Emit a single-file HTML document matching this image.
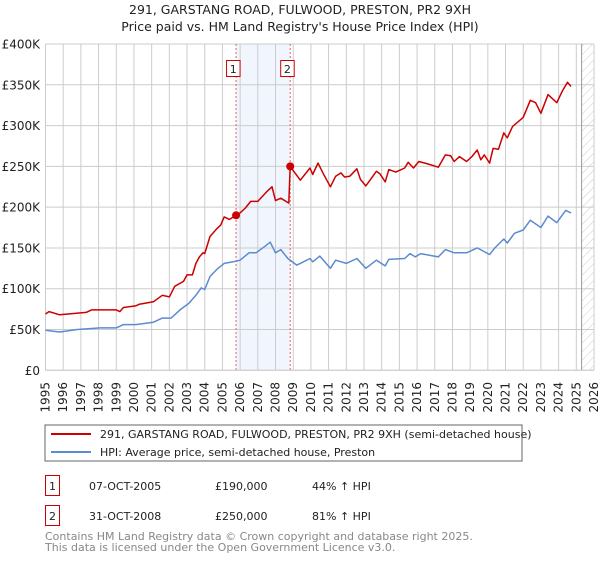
<!DOCTYPE html>
<html><head><meta charset="utf-8"><style>
body{margin:0;background:#fff;font-family:"Liberation Sans","DejaVu Sans",sans-serif;}
svg text{font-family:"DejaVu Sans","Liberation Sans",sans-serif;}
</style></head><body>
<svg id="c" width="600" height="560" xmlns="http://www.w3.org/2000/svg">
<text x="300" y="14" text-anchor="middle" font-size="12.5" fill="#222">291, GARSTANG ROAD, FULWOOD, PRESTON, PR2 9XH</text>
<text x="300" y="31" text-anchor="middle" font-size="12.5" fill="#222">Price paid vs. HM Land Registry's House Price Index (HPI)</text>
<g id="plot"></g>
<rect x="45" y="425" width="477" height="36" fill="#fff" stroke="#666"/>
<line x1="51" y1="434" x2="91" y2="434" stroke="#cc0000" stroke-width="2"/>
<text x="100" y="438" font-size="11" fill="#222">291, GARSTANG ROAD, FULWOOD, PRESTON, PR2 9XH (semi-detached house)</text>
<line x1="51" y1="452" x2="91" y2="452" stroke="#5b8bd0" stroke-width="2"/>
<text x="100" y="456" font-size="11" fill="#222">HPI: Average price, semi-detached house, Preston</text>
<g>
<rect x="45.5" y="475.5" width="14" height="20" fill="#fff" stroke="#cc0000"/>
<text x="52.5" y="490" text-anchor="middle" font-size="11" fill="#222">1</text>
<text x="89" y="490" font-size="11" fill="#222">07-OCT-2005</text>
<text x="215" y="490" font-size="11" fill="#222">£190,000</text>
<text x="312" y="490" font-size="11" fill="#222">44% ↑ HPI</text>
</g>
<g>
<rect x="45.5" y="505.5" width="14" height="20" fill="#fff" stroke="#cc0000"/>
<text x="52.5" y="520" text-anchor="middle" font-size="11" fill="#222">2</text>
<text x="89" y="520" font-size="11" fill="#222">31-OCT-2008</text>
<text x="215" y="520" font-size="11" fill="#222">£250,000</text>
<text x="312" y="520" font-size="11" fill="#222">81% ↑ HPI</text>
</g>
<text x="45" y="540" font-size="11" fill="#888">Contains HM Land Registry data © Crown copyright and database right 2025.</text>
<text x="45" y="551" font-size="11" fill="#888">This data is licensed under the Open Government Licence v3.0.</text>
</svg>
<script>
const yTicks=[0,50,100,150,200,250,300,350,400];
const yTickLabels=["£0","£50K","£100K","£150K","£200K","£250K","£300K","£350K","£400K"];
const years=[1995,1996,1997,1998,1999,2000,2001,2002,2003,2004,2005,2006,2007,2008,2009,2010,2011,2012,2013,2014,2015,2016,2017,2018,2019,2020,2021,2022,2023,2024,2025,2026];
const saleDates=[2005.77,2008.83];
const salePrices=[190,250];
const saleLabels=["1","2"];
const redX=[1995.0,1995.2,1995.8,1997.3,1997.6,1999,1999.2,1999.4,2000.1,2000.3,2001.1,2001.6,2002.0,2002.3,2002.8,2003.0,2003.3,2003.5,2003.7,2003.9,2004.0,2004.3,2004.7,2004.9,2005.1,2005.4,2005.77,2006.0,2006.3,2006.6,2007.0,2007.5,2007.8,2008.0,2008.3,2008.75,2008.83,2009.1,2009.4,2009.95,2010.1,2010.4,2010.7,2011.1,2011.4,2011.7,2011.9,2012.2,2012.6,2012.8,2013.1,2013.7,2013.9,2014.2,2014.4,2014.8,2015.3,2015.5,2015.8,2016.1,2016.6,2017.2,2017.6,2017.9,2018.1,2018.4,2018.8,2019.1,2019.4,2019.6,2019.8,2020.1,2020.3,2020.6,2020.9,2021.1,2021.4,2022.0,2022.4,2022.7,2023.0,2023.4,2023.9,2024.2,2024.5,2024.7];
const redY=[69,72,68,71,74,74,72,77,79,81,84,92,90,103,109,117,117,131,139,144,143,164,174,178,188,185,190,193,199,207,207,219,225,208,211,205,250,242,233,248,240,254,241,225,238,242,237,238,247,234,226,244,241,231,246,243,248,255,248,256,253,249,264,263,256,262,256,262,270,258,264,254,272,271,291,285,299,310,331,328,315,338,328,342,353,348];
const blueX=[1995.0,1995.8,1996.8,1998.1,1999.0,1999.4,2000.1,2001.1,2001.6,2002.1,2002.6,2003.1,2003.5,2003.8,2004.0,2004.3,2004.7,2005.1,2005.6,2006.0,2006.5,2006.9,2007.4,2007.7,2008.0,2008.3,2008.7,2009.2,2009.4,2009.95,2010.1,2010.5,2011.1,2011.4,2012.0,2012.6,2013.1,2013.7,2014.2,2014.4,2015.3,2015.6,2015.9,2016.2,2017.2,2017.6,2018.1,2018.8,2019.4,2020.1,2020.4,2020.9,2021.1,2021.5,2022.0,2022.4,2023.0,2023.4,2023.9,2024.4,2024.7];
const blueY=[49,47,50,52,52,56,56,59,64,64,74,82,92,101,99,115,124,131,133,135,144,144,152,157,144,148,137,129,131,137,133,140,125,135,131,137,125,135,128,136,137,143,139,143,139,148,144,144,150,142,150,161,156,168,172,184,175,189,181,196,193];

const L=45.5,R=594,T=44,B=370.3;
const xs=y=>L+(y-1995)/(2026-1995)*(R-L);
const ys=v=>B-v/400*(B-T);
const NS="http://www.w3.org/2000/svg";
const g=document.getElementById('plot');
function mk(tag,at,parent){const e=document.createElementNS(NS,tag);for(const k in at)e.setAttribute(k,at[k]);(parent||g).appendChild(e);return e;}
let sh=mk('rect',{x:xs(saleDates[0]),y:T,width:xs(saleDates[1])-xs(saleDates[0]),height:B-T,fill:'#eef3fc',opacity:0.8});


const defs=mk('defs',{});
const pat=mk('pattern',{id:'hatch',width:6,height:6,patternUnits:'userSpaceOnUse',patternTransform:'rotate(45)'},defs);
mk('line',{x1:0,y1:0,x2:0,y2:6,stroke:'#ccc','stroke-width':1},pat);
let hx=xs(2025.3);
let ht=mk('rect',{x:hx,y:T,width:R-hx,height:B-T,fill:'url(#hatch)'});


years.forEach(y=>{let l=mk('line',{x1:xs(y),y1:T,x2:xs(y),y2:B,stroke:'#cccccc','stroke-width':1});


let t=mk('text',{x:0,y:0,transform:`translate(${xs(y)+4},382) rotate(-90)`,'text-anchor':'end','font-size':12,fill:'#222'});
t.textContent=y;

});
yTicks.forEach((v,i)=>{let l=mk('line',{x1:L,y1:ys(v),x2:R,y2:ys(v),stroke:'#cccccc','stroke-width':1});


let t=mk('text',{x:40,y:ys(v)+4.5,'text-anchor':'end','font-size':12,fill:'#222'});
t.textContent=yTickLabels[i];

});
let vl=mk('line',{x1:hx,y1:T,x2:hx,y2:B,stroke:'#999','stroke-width':1});


saleDates.forEach((d,i)=>{let l=mk('line',{x1:xs(d),y1:T,x2:xs(d),y2:B,stroke:'#e86060','stroke-width':1,'stroke-dasharray':'2,2'});


let r=mk('rect',{x:xs(d)-9.5,y:60.5,width:13.5,height:16,fill:'#fff',stroke:'#cc0000'});


let t=mk('text',{x:xs(d)-2.8,y:73,'text-anchor':'middle','font-size':11,fill:'#222'});
t.textContent=saleLabels[i];

});
function line(X,Y,c,name){let p=mk('path',{d:X.map((x,i)=>(i?'L':'M')+xs(x).toFixed(1)+','+ys(Y[i]).toFixed(1)).join(''),fill:'none',stroke:c,'stroke-width':1.5,'stroke-linejoin':'round'});

}
line(blueX,blueY,'#5b8bd0','hpi-line');
line(redX,redY,'#cc0000','property-line');
saleDates.forEach((d,i)=>{let c=mk('circle',{cx:xs(d),cy:ys(salePrices[i]),r:4,fill:'#cc0000'});

});
let ax=mk('line',{x1:L,y1:B,x2:R,y2:B,stroke:'#ccc'});


</script>
</body></html>
